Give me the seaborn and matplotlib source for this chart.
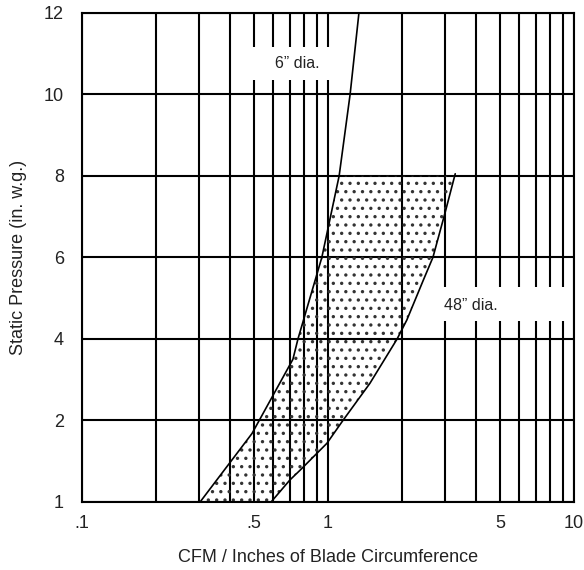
import numpy as np
import matplotlib
matplotlib.use("Agg")
import matplotlib.pyplot as plt
import seaborn as sns

# curve: static pressure vs CFM per inch of blade circumference
pressure_6in = [1.0, 1.84, 3.5, 4.0, 6.0, 8.0, 10.0, 12.0]
cfm_6in = [0.302, 0.491, 0.720, 0.755, 0.944, 1.11, 1.23, 1.336]

pressure_48in = [1.0, 1.27, 1.39, 1.72, 2.0, 2.91, 4.0, 4.46, 5.44, 6.0, 7.09, 8.05]
cfm_48in = [0.587, 0.700, 0.770, 0.99, 1.15, 1.48, 1.91, 2.09, 2.44, 2.67, 2.99, 3.29]

shade_top = 8.0

x_ticks = [0.1, 0.5, 1, 5, 10]
x_tick_labels = [".1", ".5", "1", "5", "10"]
x_minor = [0.2, 0.3, 0.4, 0.6, 0.7, 0.8, 0.9, 2, 3, 4, 6, 7, 8, 9]
y_ticks = [1, 2, 4, 6, 8, 10, 12]
y_tick_labels = ["1", "2", "4", "6", "8", "10", "12"]


# y axis: the 1..2 band is stretched to the same height as 2..4
def fwd(y):
    y = np.asarray(y, dtype=float)
    return np.where(y < 2, 2 * (y - 1), y)


def inv(v):
    v = np.asarray(v, dtype=float)
    return np.where(v < 2, v / 2 + 1, v)


sns.set_style("white")
plt.rcParams["font.family"] = ["Liberation Sans", "DejaVu Sans"]
plt.rcParams["hatch.linewidth"] = 1.2

fig = plt.figure(figsize=(5.84, 5.70), dpi=100)
ax = fig.add_axes([0.1404, 0.1193, 0.8425, 0.8584])
ax.set_xscale("log")
ax.set_yscale("function", functions=(fwd, inv))
ax.set_xlim(0.1, 10)
ax.set_ylim(1, 12)

# grid
ax.set_xticks(x_ticks)
ax.set_xticklabels(x_tick_labels)
ax.set_xticks(x_minor, minor=True)
ax.set_xticklabels([], minor=True)
ax.set_yticks(y_ticks)
ax.set_yticklabels(y_tick_labels)
ax.yaxis.set_minor_locator(matplotlib.ticker.NullLocator())
ax.grid(True, which="both", color="black", linewidth=1.5)
ax.set_axisbelow(True)
ax.tick_params(axis="both", which="major", direction="out", length=7, width=1.4,
               color="black", labelsize=13, labelcolor="#222222")
ax.tick_params(axis="x", which="major", pad=2.5)
ax.tick_params(axis="y", which="major", pad=6)
ax.tick_params(axis="x", which="minor", length=0)
for s in ax.spines.values():
    s.set_color("black")
    s.set_linewidth(1.5)

# shaded operating band between the curves
ys = sorted(set([v for v in pressure_6in + pressure_48in if v <= shade_top] + [shade_top]))
ys = np.array(ys)
left = 10 ** np.interp(fwd(ys), fwd(pressure_6in), np.log10(cfm_6in))
right = 10 ** np.interp(fwd(ys), fwd(pressure_48in), np.log10(cfm_48in))
ax.fill_betweenx(ys, left, right, facecolor="none", edgecolor="#333333",
                 hatch="..", linewidth=0, zorder=1)

sns.lineplot(x=cfm_6in, y=pressure_6in, sort=False, color="black", linewidth=1.2, ax=ax, zorder=3)
sns.lineplot(x=cfm_48in, y=pressure_48in, sort=False, color="black", linewidth=1.2, ax=ax, zorder=3)

# label boxes that break the grid
ax.add_patch(plt.Rectangle((0.321, 0.862), 0.196, 0.068, transform=ax.transAxes,
                           facecolor="white", edgecolor="none", zorder=2))
ax.text(0.437, 0.897, "6\u201d dia.", transform=ax.transAxes, ha="center", va="center",
        fontsize=11.5, color="#222222", zorder=4)
ax.add_patch(plt.Rectangle((0.707, 0.370), 0.285, 0.069, transform=ax.transAxes,
                           facecolor="white", edgecolor="none", zorder=2))
ax.text(0.79, 0.402, "48\u201d dia.", transform=ax.transAxes, ha="center", va="center",
        fontsize=11.5, color="#222222", zorder=4)

ax.set_xlabel("CFM / Inches of Blade Circumference", fontsize=13, color="#222222", labelpad=12)
ax.set_ylabel("Static Pressure (in. w.g.)", fontsize=13, color="#222222", labelpad=12)

fig.savefig("out.png", dpi=100)
